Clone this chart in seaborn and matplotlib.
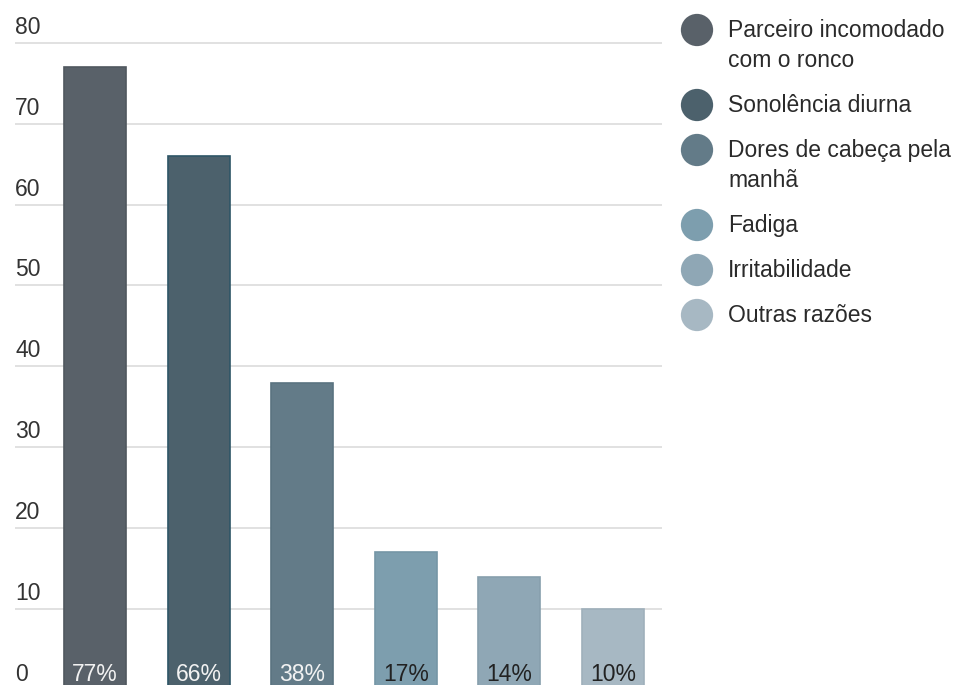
import numpy as np
import pandas as pd
import seaborn as sb
import matplotlib.pyplot as plt
import matplotlib.transforms as mtransforms

sb.set_style('white')
plt.rcParams['font.family'] = ['Liberation Sans', 'DejaVu Sans']
plt.rcParams['font.size'] = 16.5

# data
categories = ['Parceiro incomodado\ncom o ronco', 'Sonolência diurna',
              'Dores de cabeça pela\nmanhã', 'Fadiga', 'Irritabilidade', 'Outras razões']
values = [77, 66, 38, 17, 14, 10]
pct_labels = ['77%', '66%', '38%', '17%', '14%', '10%']
yticks = [0, 10, 20, 30, 40, 50, 60, 70, 80]

colors = ['#596169', '#4c616c', '#637b88', '#7d9eae', '#8fa7b5', '#a7b8c3']
edges = ['#50585f', '#2e5566', '#5a7380', '#7596a6', '#879fad', '#9fb0bb']
label_colors = ['#f2f2f2', '#f2f2f2', '#f2f2f2', '#222222', '#222222', '#222222']

df = pd.DataFrame({'cat': categories, 'val': values})

fig = plt.figure(figsize=(9.61, 6.85), dpi=100)
ax = fig.add_axes([15 / 961, 0, 647 / 961, 1])

#gridlines first so bars sit on top
for t in yticks:
    ax.axhline(t, color='#d9d9d9', lw=1.1, zorder=0)

g = sb.barplot(data=df, x='cat', y='val', hue='cat', palette=colors, legend=False,
               saturation=1, width=0.6, ax=ax, zorder=2)
for bar, ec in zip(g.patches, edges):
    bar.set_edgecolor(ec)
    bar.set_linewidth(1.2)

ax.set_xlim(-0.772, 5.473)
ax.set_ylim(0.6, 85.3)
ax.set_xticks([])
ax.set_yticks([])
ax.set_xlabel('')
ax.set_ylabel('')
for s in ax.spines.values():
    s.set_visible(False)

#tick labels sit above their gridline
trans = mtransforms.blended_transform_factory(ax.transAxes, ax.transData)
for t in yticks:
    ax.annotate(str(t), xy=(0, t), xycoords=trans, xytext=(0, 9), textcoords='offset pixels',
                ha='left', va='baseline', color='#333333', annotation_clip=False)

#percent labels at the bottom of each bar
for i, (lab, c) in enumerate(zip(pct_labels, label_colors)):
    ax.annotate(lab, xy=(i, 0), xycoords='data', xytext=(0, 9), textcoords='offset pixels',
                ha='center', va='baseline', color=c, annotation_clip=False, zorder=3)

#legend drawn by hand so the dot lines up with the first text line
lax = fig.add_axes([0, 0, 1, 1])
lax.set_xlim(0, 961)
lax.set_ylim(685, 0)
lax.axis('off')
row = 30
for lab, c in zip(categories, colors):
    lax.scatter([697], [row], s=540, color=c, edgecolor='none')
    for k, line in enumerate(lab.split('\n')):
        lax.text(728, row + 30 * k, line, ha='left', va='center', color='#2a2a2a')
    row += 45 + 30 * lab.count('\n')

plt.savefig('out.png', dpi=100)
